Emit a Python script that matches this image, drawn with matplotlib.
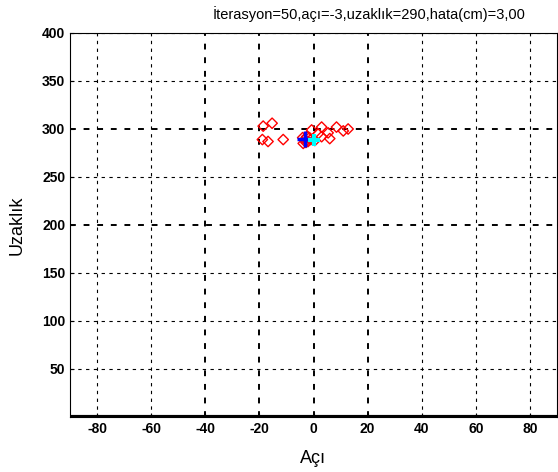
import matplotlib
matplotlib.use("Agg")
import matplotlib.pyplot as plt

plt.rcParams['font.family'] = ['Liberation Sans', 'DejaVu Sans']
plt.rcParams['axes.unicode_minus'] = False

# Data
red_x = [-18.6, -15.3, -18.9, -16.8, -11.2, -3.3, -2.5, -3.8, -1.5, -0.7, 1.7,
         3.0, 3.0, 5.4, 6.0, 8.5, 11.0, 12.8, -2.0, 0.5, -4.0, -2.8, -1.0]
red_y = [303, 306, 289, 287, 289, 289, 292, 285, 291, 299, 295,
         302, 292, 296, 290, 302, 298, 300, 287, 288, 291, 286, 289]
target_x = [-3]
target_y = [290]
estimate_x = [0.3]
estimate_y = [289]

title = "İterasyon=50,açı=-3,uzaklık=290,hata(cm)=3,00"
xticks = [-80, -60, -40, -20, 0, 20, 40, 60, 80]
yticks = [50, 100, 150, 200, 250, 300, 350, 400]

fig = plt.figure(figsize=(5.58, 4.72), dpi=100)
ax = fig.add_axes([70/558, 55/472, 487/558, 384/472])

ax.set_xlim(-90, 90)
ax.set_ylim(0, 400)
ax.set_xticks(xticks)
ax.set_yticks(yticks)

for x in xticks:
    lw = 1.4 if x in (-40, -20, 0, 20) else 0.8
    ax.axvline(x, color='black', ls=(0, (3, 4)), lw=lw, zorder=0)
for y in yticks:
    lw = 1.4 if y in (200, 300) else 0.8
    ax.axhline(y, color='black', ls=(0, (3, 4)), lw=lw, zorder=0)

ax.scatter(red_x, red_y, marker='D', s=28, facecolors='none', edgecolors='red', linewidths=1.0, zorder=3)
ax.plot(target_x, target_y, marker='+', color='blue', ms=11, mew=2.5, ls='none', zorder=4)
ax.plot(estimate_x, estimate_y, marker='+', color='cyan', ms=8, mew=3, ls='none', zorder=4)

ax.axhline(0, color='black', lw=3, zorder=5)

ax.tick_params(direction='in', length=3, labelsize=10, width=0.8)
for lab in ax.get_xticklabels() + ax.get_yticklabels():
    lab.set_fontweight('bold')
ax.set_xlabel("Açı", fontsize=13, labelpad=10)
ax.set_ylabel("Uzaklık", fontsize=13, labelpad=12)
for s in ax.spines.values():
    s.set_linewidth(0.8)

fig.text(369/558, 1 - 14/472, title, ha='center', va='center', fontsize=10.5)

fig.savefig("out.png", dpi=100)
